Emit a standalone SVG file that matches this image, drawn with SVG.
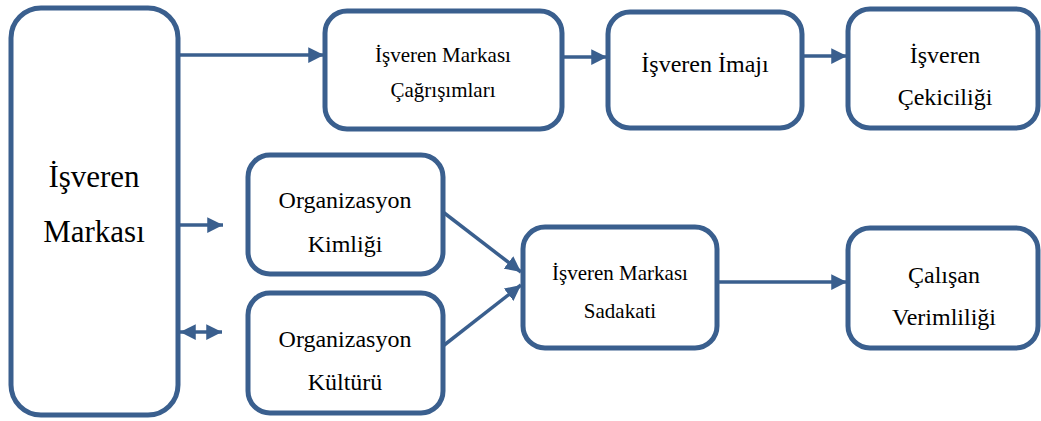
<svg xmlns="http://www.w3.org/2000/svg" width="1041" height="421" viewBox="0 0 1041 421">
<style>
.box{fill:#fff;stroke:#3A5F8E;stroke-width:5}
.ln{stroke:#3A5F8E;stroke-width:3.5;fill:none}
text{font-family:"Liberation Serif","Times New Roman",serif;fill:#000;text-anchor:middle}
</style>
<defs>
<marker id="ah" viewBox="0 0 10 10" refX="10" refY="5" markerWidth="4.5" markerHeight="4.5" markerUnits="strokeWidth" orient="auto-start-reverse">
<path d="M0,0 L10,5 L0,10 z" fill="#3A5F8E"/>
</marker>
</defs>
<g id="connectors">
<line class="ln" x1="178" y1="55" x2="324" y2="55" marker-end="url(#ah)"/>
<line class="ln" x1="562" y1="57" x2="607" y2="57" marker-end="url(#ah)"/>
<line class="ln" x1="802" y1="56" x2="847" y2="56" marker-end="url(#ah)"/>
<line class="ln" x1="178" y1="225" x2="223" y2="225" marker-end="url(#ah)"/>
<line class="ln" x1="180" y1="332" x2="222" y2="332" marker-start="url(#ah)" marker-end="url(#ah)"/>
<line class="ln" x1="443" y1="212" x2="521" y2="272" marker-end="url(#ah)"/>
<line class="ln" x1="443" y1="346" x2="521" y2="285" marker-end="url(#ah)"/>
<line class="ln" x1="717" y1="282" x2="847" y2="282" marker-end="url(#ah)"/>
</g>
<g id="n-marka"><rect class="box" x="11" y="8" width="167" height="407" rx="30"/>
<text x="94" y="187" font-size="31">İşveren</text><text x="94" y="242" font-size="31">Markası</text></g>
<g id="n-cagrisim"><rect class="box" x="325" y="11" width="237" height="118" rx="22"/>
<text x="443" y="62" font-size="21">İşveren Markası</text><text x="443" y="97" font-size="21">Çağrışımları</text></g>
<g id="n-imaj"><rect class="box" x="608" y="12" width="194" height="116" rx="22"/>
<text x="705" y="72" font-size="24">İşveren İmajı</text></g>
<g id="n-cekici"><rect class="box" x="848" y="9" width="190" height="119" rx="22"/>
<text x="945" y="63" font-size="24">İşveren</text><text x="945" y="105" font-size="24">Çekiciliği</text></g>
<g id="n-kimlik"><rect class="box" x="248" y="155" width="195" height="119" rx="22"/>
<text x="345" y="208" font-size="24">Organizasyon</text><text x="345" y="252" font-size="24">Kimliği</text></g>
<g id="n-kultur"><rect class="box" x="248" y="293" width="195" height="120" rx="22"/>
<text x="345" y="347" font-size="24">Organizasyon</text><text x="345" y="390" font-size="24">Kültürü</text></g>
<g id="n-sadakat"><rect class="box" x="523" y="227" width="194" height="121" rx="22"/>
<text x="620" y="280" font-size="21">İşveren Markası</text><text x="620" y="318" font-size="21">Sadakati</text></g>
<g id="n-verim"><rect class="box" x="848" y="228" width="190" height="120" rx="22"/>
<text x="944" y="283" font-size="24">Çalışan</text><text x="944" y="325" font-size="24">Verimliliği</text></g>
</svg>
